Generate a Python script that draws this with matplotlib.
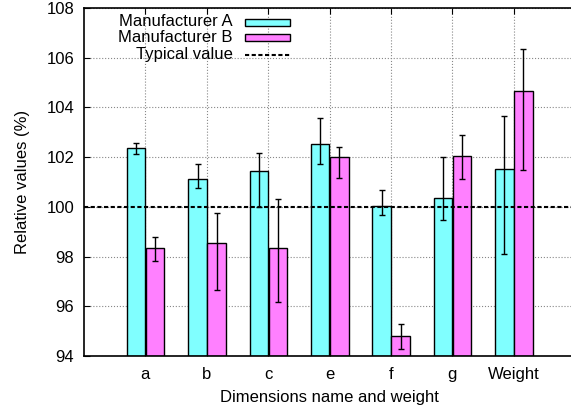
import numpy as np
import matplotlib
matplotlib.use("Agg")
import matplotlib.pyplot as plt
from matplotlib.patches import Rectangle
from matplotlib.lines import Line2D

plt.rcParams['font.family'] = ['Liberation Sans', 'DejaVu Sans']

categories = ['a', 'b', 'c', 'e', 'f', 'g', 'Weight']
vals_a = [102.35, 101.13, 101.43, 102.53, 100.05, 100.34, 101.51]
low_a = [102.13, 100.76, 100.00, 101.71, 99.67, 99.48, 98.09]
high_a = [102.55, 101.72, 102.18, 103.56, 100.66, 101.99, 103.67]
vals_b = [98.34, 98.55, 98.34, 102.02, 94.82, 102.05, 104.67]
low_b = [97.81, 96.65, 96.17, 101.17, 94.29, 101.12, 101.48]
high_b = [98.77, 99.76, 100.30, 102.42, 95.30, 102.89, 106.36]
typical = 100

x = np.arange(len(categories))
va, vb = np.array(vals_a), np.array(vals_b)
err_a = [va - np.array(low_a), np.array(high_a) - va]
err_b = [vb - np.array(low_b), np.array(high_b) - vb]

W, H = 571, 411
fig = plt.figure(figsize=(W / 100, H / 100), dpi=100)
ax = fig.add_axes([84/W, 55/H, 491/W, 348/H])

fs = 12
w = 0.3
ax.bar(x - 0.15, va - 94, w, bottom=94, color='#80ffff', edgecolor='black',
       linewidth=1, zorder=2)
ax.bar(x + 0.16, vb - 94, w, bottom=94, color='#ff80ff', edgecolor='black',
       linewidth=1, zorder=2)
ax.errorbar(x - 0.15, va, yerr=err_a, fmt='none', ecolor='black', elinewidth=1,
            capsize=2.5, capthick=1, zorder=3)
ax.errorbar(x + 0.16, vb, yerr=err_b, fmt='none', ecolor='black', elinewidth=1,
            capsize=2.5, capthick=1, zorder=3)
ax.axhline(typical, color='black', linestyle=(0, (2, 1.2)), linewidth=1.5, zorder=4)

ax.set_xlim(-1, 7)
ax.set_ylim(94, 108)
ax.set_xticks(x)
ax.set_xticklabels(categories, fontsize=fs)
ax.set_yticks(np.arange(94, 109, 2))
ax.tick_params(axis='y', labelsize=fs, direction='in', length=4, right=False, pad=7)
ax.tick_params(axis='x', direction='in', length=4, top=True, pad=8)
ax.set_xlabel('Dimensions name and weight', fontsize=fs, labelpad=6)
ax.set_ylabel('Relative values (%)', fontsize=fs, labelpad=12)
ax.spines['right'].set_visible(False)
for s in ax.spines.values():
    s.set_linewidth(1.2)

ax.set_axisbelow(True)
ax.grid(True, linestyle=':', color='#888888', linewidth=0.8)

# key drawn by hand: text right-aligned, sample on the right
key = [('Manufacturer A', '#80ffff', 22), ('Manufacturer B', '#ff80ff', 38),
       ('Typical value', None, 55)]
for label, color, ypx in key:
    yf = 1 - ypx / H
    fig.text(233 / W, yf, label, ha='right', va='center', fontsize=fs)
    if color:
        fig.add_artist(Rectangle((245 / W, yf - 3.5 / H), 45 / W, 7 / H,
                                 transform=fig.transFigure, facecolor=color,
                                 edgecolor='black', linewidth=1))
    else:
        fig.add_artist(Line2D([245 / W, 290 / W], [yf, yf], transform=fig.transFigure,
                              color='black', linestyle=(0, (2, 1.2)), linewidth=1.5))

fig.savefig('out.png', dpi=100)
